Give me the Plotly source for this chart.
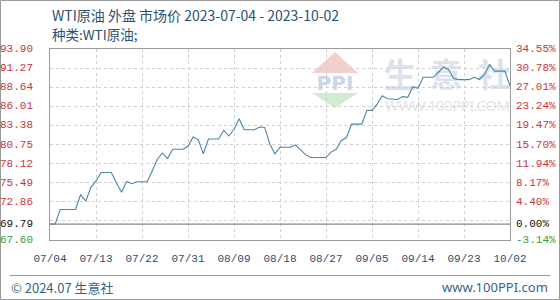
import base64
import pandas as pd
import plotly.graph_objects as go

# ---------------- data ----------------
start_date = "2023-07-04"
prices = [
    69.79, 69.79, 71.80, 71.80, 71.80, 71.80, 73.86, 72.95, 74.85, 75.73,
    76.90, 76.90, 76.90, 75.45, 74.18, 75.65, 75.35, 75.62, 75.62, 75.62,
    77.10, 78.72, 79.58, 78.82, 80.10, 80.10, 80.10, 80.50, 81.78, 81.42,
    79.45, 81.50, 81.50, 81.50, 82.70, 81.92, 82.85, 84.30, 82.78, 82.78,
    82.78, 83.15, 83.10, 80.85, 79.45, 80.37, 80.37, 80.37, 80.70, 80.00,
    79.35, 78.95, 78.95, 78.95, 78.95, 79.70, 80.10, 81.30, 81.68, 83.55,
    83.55, 83.55, 85.45, 85.45, 86.30, 87.45, 87.05, 86.95, 86.95, 87.34,
    87.25, 88.72, 88.50, 90.00, 90.00, 90.00, 90.70, 91.40, 91.05, 89.85,
    89.68, 89.68, 89.68, 90.00, 89.70, 90.40, 91.76, 90.85, 90.85, 90.85,
    88.80,
]
dates = pd.date_range(start_date, periods=len(prices), freq="D")

x_tick_dates = ["2023-07-04", "2023-07-13", "2023-07-22", "2023-07-31", "2023-08-09",
                "2023-08-18", "2023-08-27", "2023-09-05", "2023-09-14", "2023-09-23",
                "2023-10-02"]
x_tick_labels = ["07/04", "07/13", "07/22", "07/31", "08/09", "08/18", "08/27",
                 "09/05", "09/14", "09/23", "10/02"]

y_grid = [67.60, 70.23, 72.86, 75.49, 78.12, 80.75, 83.38, 86.01, 88.64, 91.27, 93.90]
y_label_vals = [93.90, 91.27, 88.64, 86.01, 83.38, 80.75, 78.12, 75.49, 72.86, 69.79, 67.60]
y_labels_left = ["93.90", "91.27", "88.64", "86.01", "83.38", "80.75", "78.12",
                 "75.49", "72.86", "69.79", "67.60"]
y_labels_right = ["34.55%", "30.78%", "27.01%", "23.24%", "19.47%", "15.70%",
                  "11.94%", "8.17%", "4.40%", "0.00%", "-3.14%"]
base_price = 69.79

title_text = "WTI原油 外盘 市场价 2023-07-04 - 2023-10-02"
subtitle_text = "种类:WTI原油;"
footer_left = "© 2024.07 生意社"
footer_right = "www.100PPI.com"

# ---------------- styling ----------------
W, H = 560, 300
ML, MR, MT, MB = 50, 50, 49, 60
PW, PH = W - ML - MR, H - MT - MB


def px_x(px):
    return (px - ML) / PW


def px_y(py):
    return (H - MB - py) / PH


RED = "#cc3340"
GREEN = "#3c9a3c"
BLACK = "#111111"
BLUE_TXT = "#2b5072"
MONO = "Liberation Mono"
CJK = "Noto Sans CJK SC"

fig = go.Figure()
fig.add_trace(go.Scatter(
    x=dates, y=prices, mode="lines",
    line=dict(color="#4a86a8", width=1.1),
    hoverinfo="skip", showlegend=False,
))

annotations = []
for v, tl, tr in zip(y_label_vals, y_labels_left, y_labels_right):
    col = RED if v > base_price else (BLACK if v == base_price else GREEN)
    annotations.append(dict(x=px_x(35), y=v, xref="paper", yref="y", text=tl,
                            showarrow=False, xanchor="right", yanchor="middle",
                            font=dict(family=MONO, size=11, color=col)))
    annotations.append(dict(x=px_x(514), y=v, xref="paper", yref="y", text=tr,
                            showarrow=False, xanchor="left", yanchor="middle",
                            font=dict(family=MONO, size=11, color=col)))

annotations += [
    dict(x=px_x(50), y=px_y(15), xref="paper", yref="paper", text=title_text,
         showarrow=False, xanchor="left", yanchor="middle",
         font=dict(family=CJK, size=14, color=BLUE_TXT)),
    dict(x=px_x(50), y=px_y(34), xref="paper", yref="paper", text=subtitle_text,
         showarrow=False, xanchor="left", yanchor="middle",
         font=dict(family=CJK, size=13.5, color=BLUE_TXT)),
    dict(x=px_x(9), y=px_y(287), xref="paper", yref="paper", text=footer_left,
         showarrow=False, xanchor="left", yanchor="middle",
         font=dict(family=CJK, size=13, color="#3b6386")),
    dict(x=px_x(550), y=px_y(287), xref="paper", yref="paper", text=footer_right,
         showarrow=False, xanchor="right", yanchor="middle",
         font=dict(family="Noto Sans", size=13, color="#3b6386")),
]

shapes = [
    # base price line
    dict(type="line", xref="paper", yref="y", x0=0, x1=1, y0=base_price, y1=base_price,
         line=dict(color="#8a8a8a", width=1.2), layer="above"),
    # footer separator
    dict(type="line", xref="paper", yref="paper", x0=px_x(10), x1=px_x(550),
         y0=px_y(275.5), y1=px_y(275.5), line=dict(color="#9a9a9a", width=1)),
    # outer frame
    dict(type="rect", xref="paper", yref="paper", x0=px_x(0.5), x1=px_x(559.5),
         y0=px_y(299.5), y1=px_y(0.5), line=dict(color="#9a9a9a", width=1)),
]

# watermark (below the data)
svg = """<svg xmlns='http://www.w3.org/2000/svg' width='210' height='67' viewBox='0 0 210 67'>
<polygon points='30,4 7,25 53,25' fill='#f5cfcb'/>
<text x='30' y='42' text-anchor='middle' font-family='DejaVu Sans' font-weight='bold' font-size='20' fill='#cdd6e6'>PPI</text>
<polygon points='7,45 53,45 30,60' fill='#d3ead3'/>
<text x='95' y='39' text-anchor='middle' font-family='Noto Sans CJK SC' font-weight='bold' font-size='33' fill='#dde3ed'>生</text>
<text x='141' y='39' text-anchor='middle' font-family='Noto Sans CJK SC' font-weight='bold' font-size='33' fill='#dde3ed'>意</text>
<text x='189' y='39' text-anchor='middle' font-family='Noto Sans CJK SC' font-weight='bold' font-size='33' fill='#dde3ed'>社</text>
<text x='80' y='63' font-family='Noto Sans' font-size='15' fill='#e3e6ec' textLength='125'>WWW.100PPI.COM</text>
</svg>"""
svg_uri = "data:image/svg+xml;base64," + base64.b64encode(svg.encode("utf-8")).decode()

fig.update_layout(
    width=W, height=H, autosize=False,
    margin=dict(l=ML, r=MR, t=MT, b=MB, pad=0),
    paper_bgcolor="white", plot_bgcolor="white",
    showlegend=False,
    annotations=annotations,
    shapes=shapes,
    images=[dict(source=svg_uri, xref="paper", yref="paper",
                 x=px_x(305), y=px_y(48), sizex=210 / PW, sizey=67 / PH,
                 xanchor="left", yanchor="top", sizing="stretch", layer="below")],
    xaxis=dict(
        type="date", range=[dates[0], dates[-1]],
        tickvals=x_tick_dates, ticktext=x_tick_labels,
        tickfont=dict(family=MONO, size=11, color=BLUE_TXT),
        ticks="", ticklabelstandoff=8,
        showgrid=True, gridcolor="#cfcfcf", griddash="dot", gridwidth=1,
        showline=True, mirror=True, linecolor="#9a9a9a", linewidth=1,
        zeroline=False, fixedrange=True,
    ),
    yaxis=dict(
        range=[y_grid[0], y_grid[-1]],
        tickvals=y_grid, showticklabels=False, ticks="",
        showgrid=True, gridcolor="#cfcfcf", griddash="dot", gridwidth=1,
        showline=True, mirror=True, linecolor="#9a9a9a", linewidth=1,
        zeroline=False, fixedrange=True,
    ),
)

fig.write_html("out.html", config={"displayModeBar": False})
